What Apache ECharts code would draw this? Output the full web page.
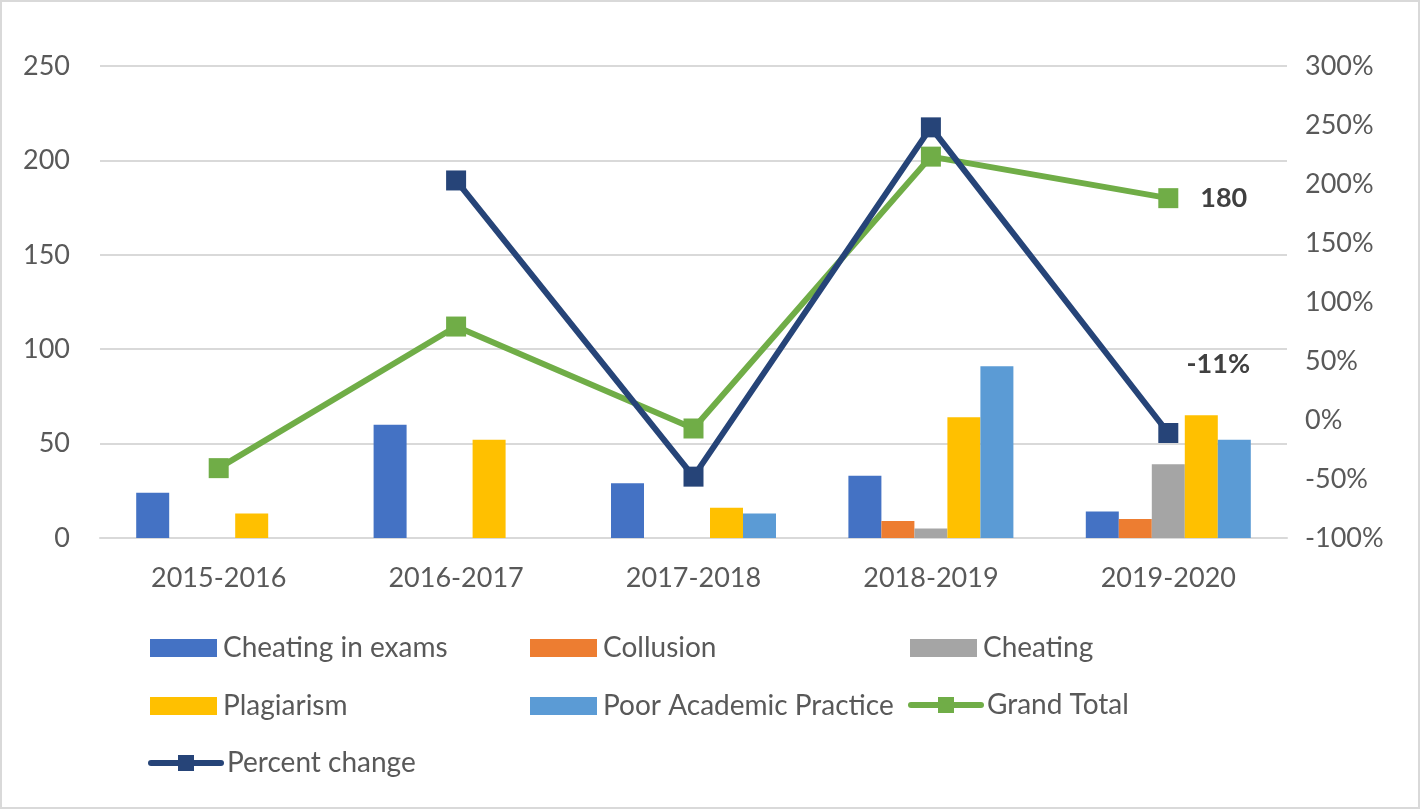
<!DOCTYPE html>
<html><head><meta charset="utf-8">
<script src="https://cdn.jsdelivr.net/npm/echarts@6/dist/echarts.min.js"></script>
<style>html,body{margin:0;padding:0;background:#fff}#c{width:1420px;height:809px}</style>
</head><body><div id="c"></div>
<script>
const categories = ['2015-2016','2016-2017','2017-2018','2018-2019','2019-2020'];
const cheatingInExams = [24, 60, 29, 33, 14];
const collusion = [null, null, null, 9, 10];
const cheating = [null, null, null, 5, 39];
const plagiarism = [13, 52, 16, 64, 65];
const poorAcademicPractice = [null, null, 13, 91, 52];
const grandTotal = [37, 112, 58, 202, 180];
const percentChange = [null, 203, -48, 248, -11];
const leftTicks = {min: 0, max: 250, interval: 50};
const rightTicks = {min: -100, max: 300, interval: 50};

const FONT = 'Lato';
const TXT = '#595959';
const chart = echarts.init(document.getElementById('c'), null, {renderer: 'canvas'});

function bar(name, data, color) {
  return {name, type: 'bar', data, barWidth: 33, barGap: '0%', itemStyle: {color}, yAxisIndex: 0};
}
const legendPos = [
  ['Cheating in exams', 150, 647, 'rect', null],
  ['Collusion', 530, 647, 'rect', null],
  ['Cheating', 910, 647, 'rect', null],
  ['Plagiarism', 150, 705, 'rect', null],
  ['Poor Academic Practice', 530, 705, 'rect', null],
  ['Grand Total', 908, 705, null, '#70AD47'],
  ['Percent change', 148, 763, null, '#264478']
];
const legends = legendPos.map(([name, x, y, icon, lc]) => {
  const d = icon ? {name, icon} : {name, lineStyle: {width: 6, color: lc, cap: 'round'}};
  return {
    data: [d], padding: 0,
    left: x, top: y - (icon ? 13 : 14), itemWidth: icon ? 67 : 70, itemHeight: icon ? 18 : 20, itemGap: 0,
    textStyle: {fontFamily: FONT, fontSize: 28, color: TXT, padding: [0, 0, 0, 1]},
    selectedMode: false
  };
});

chart.setOption({
  animation: false,
  backgroundColor: '#fff',
  grid: {left: 100, right: 133, top: 66, bottom: 271, containLabel: false},
  legend: legends,
  graphic: [{type: 'rect', shape: {x: 1, y: 1, width: 1418, height: 807}, style: {fill: 'none', stroke: '#d9d9d9', lineWidth: 2}, silent: true}],
  xAxis: {
    type: 'category', data: categories,
    axisLine: {lineStyle: {color: '#d9d9d9', width: 2}}, axisTick: {show: false},
    axisLabel: {fontFamily: FONT, fontSize: 27, color: TXT, margin: 27}
  },
  yAxis: [
    {type: 'value', min: leftTicks.min, max: leftTicks.max, interval: leftTicks.interval,
     axisLine: {show: false}, axisTick: {show: false},
     splitLine: {lineStyle: {color: '#d9d9d9', width: 2}},
     axisLabel: {fontFamily: FONT, fontSize: 27, color: TXT, margin: 30}},
    {type: 'value', min: rightTicks.min, max: rightTicks.max, interval: rightTicks.interval,
     axisLine: {show: false}, axisTick: {show: false}, splitLine: {show: false},
     axisLabel: {fontFamily: FONT, fontSize: 27, color: TXT, margin: 18, formatter: '{value}%'}}
  ],
  series: [
    bar('Cheating in exams', cheatingInExams, '#4472C4'),
    bar('Collusion', collusion, '#ED7D31'),
    bar('Cheating', cheating, '#A5A5A5'),
    bar('Plagiarism', plagiarism, '#FFC000'),
    bar('Poor Academic Practice', poorAcademicPractice, '#5B9BD5'),
    {name: 'Grand Total', type: 'line', yAxisIndex: 0, data: grandTotal.map((v, i) => i === grandTotal.length - 1 ? {value: v, label: {show: true, position: 'right', distance: 22, formatter: '{c}', fontFamily: FONT, fontSize: 27, fontWeight: 'bold', color: '#404040'}} : v),
     symbol: 'rect', symbolSize: 20, lineStyle: {color: '#70AD47', width: 6}, itemStyle: {color: '#70AD47'}, z: 3},
    {name: 'Percent change', type: 'line', yAxisIndex: 1, data: percentChange.map((v, i) => i === percentChange.length - 1 ? {value: v, label: {show: true, position: 'top', distance: 5, offset: [50, -40], formatter: '{c}%', fontFamily: FONT, fontSize: 27, fontWeight: 'bold', color: '#404040'}} : v),
     symbol: 'rect', symbolSize: 20, lineStyle: {color: '#264478', width: 6}, itemStyle: {color: '#264478'}, z: 4}
  ]
});
</script></body></html>
